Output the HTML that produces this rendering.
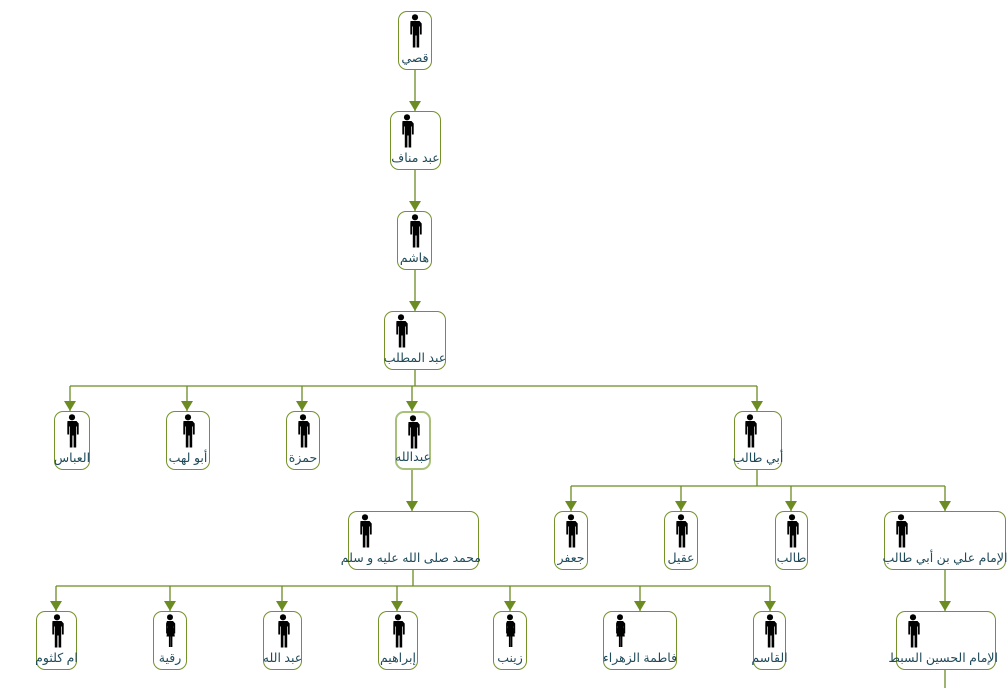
<!DOCTYPE html>
<html><head><meta charset="utf-8"><style>
body{margin:0;width:1007px;height:688px;background:#fff;position:relative;overflow:hidden;font-family:"Liberation Sans","DejaVu Sans",sans-serif}
.n{position:absolute;height:59px;border:1.3px solid #74912a;border-radius:9px;background:#fff;box-sizing:border-box}
.n svg{position:absolute;left:50%;top:2px;margin-left:-8px}
.n.l svg{left:8px;margin-left:0}
.n span{position:absolute;left:-3px;right:-3px;bottom:4px;text-align:center;font-size:12.5px;color:#1f4a5a;white-space:nowrap;direction:rtl}
</style></head><body>
<svg width="1007" height="688" style="position:absolute;left:0;top:0">
<defs><marker id="a" markerWidth="10" markerHeight="12" refX="10" refY="6" orient="auto" markerUnits="userSpaceOnUse"><path d="M0,0 L10,6 L0,12z" fill="#6b8c22"/></marker></defs>
<g stroke="#6b8c22" stroke-width="1.3" fill="none">
<path d="M415 70V111" marker-end="url(#a)"/>
<path d="M415 170V211" marker-end="url(#a)"/>
<path d="M415 270V311" marker-end="url(#a)"/>
<path d="M415 370V386M70 386H757"/>
<path d="M70 386V411" marker-end="url(#a)"/><path d="M187 386V411" marker-end="url(#a)"/><path d="M302 386V411" marker-end="url(#a)"/><path d="M412 386V411" marker-end="url(#a)"/><path d="M757 386V411" marker-end="url(#a)"/>
<path d="M412 470V511" marker-end="url(#a)"/>
<path d="M757 470V486M571 486H945"/>
<path d="M571 486V511" marker-end="url(#a)"/><path d="M681 486V511" marker-end="url(#a)"/><path d="M791 486V511" marker-end="url(#a)"/><path d="M945 486V511" marker-end="url(#a)"/>
<path d="M413 570V586M56 586H770"/>
<path d="M56 586V611" marker-end="url(#a)"/><path d="M170 586V611" marker-end="url(#a)"/><path d="M282 586V611" marker-end="url(#a)"/><path d="M397 586V611" marker-end="url(#a)"/><path d="M510 586V611" marker-end="url(#a)"/><path d="M640 586V611" marker-end="url(#a)"/><path d="M770 586V611" marker-end="url(#a)"/>
<path d="M945 570V611" marker-end="url(#a)"/>
<path d="M945 670V688"/>
</g></svg>
<svg width="0" height="0" style="position:absolute"><defs>
<symbol id="m" viewBox="0 0 16 34"><circle cx="8" cy="3.3" r="3.1"/><path d="M3.5 7h9l2.2 2.5v11h-1.8v-8h-0.7v21h-2.6v-12h-1.2v12H5.8v-21h-0.7v8H3.3v-11z"/></symbol>
<symbol id="f" viewBox="0 0 16 34"><circle cx="8" cy="3.3" r="3"/><path d="M5 7h6l2.2 2.5v10h-1.5v-7h-0.3l1.4 10h-2.4v10.5h-1.6v-10.5h-0.2v10.5H6.9v-10.5H4.5l1.4-10h-0.3v7H4.1v-10z"/></symbol>
</defs></svg>
<div class="n" style="left:398px;top:11px;width:34px"><svg width="16" height="34"><use href="#m"/></svg><span>قصي</span></div>
<div class="n" style="left:390px;top:111px;width:51px"><svg width="16" height="34" style="left:8px;margin-left:0"><use href="#m"/></svg><span>عبد مناف</span></div>
<div class="n" style="left:397px;top:211px;width:35px"><svg width="16" height="34"><use href="#m"/></svg><span>هاشم</span></div>
<div class="n l" style="left:384px;top:311px;width:62px"><svg width="16" height="34"><use href="#m"/></svg><span>عبد المطلب</span></div>
<div class="n" style="left:54px;top:411px;width:36px"><svg width="16" height="34"><use href="#m"/></svg><span>العباس</span></div>
<div class="n" style="left:166px;top:411px;width:44px"><svg width="16" height="34"><use href="#m"/></svg><span>أبو لهب</span></div>
<div class="n" style="left:286px;top:411px;width:34px"><svg width="16" height="34"><use href="#m"/></svg><span>حمزة</span></div>
<div class="n" style="left:395px;top:411px;width:36px;border-color:#a9c07a;border-width:2px"><svg width="16" height="34"><use href="#m"/></svg><span>عبدالله</span></div>
<div class="n" style="left:734px;top:411px;width:48px"><svg width="16" height="34" style="left:7px;margin-left:0"><use href="#m"/></svg><span>أبي طالب</span></div>
<div class="n l" style="left:348px;top:511px;width:131px"><svg width="16" height="34"><use href="#m"/></svg><span>محمد صلى الله عليه و سلم</span></div>
<div class="n" style="left:554px;top:511px;width:34px"><svg width="16" height="34"><use href="#m"/></svg><span>جعفر</span></div>
<div class="n" style="left:664px;top:511px;width:34px"><svg width="16" height="34"><use href="#m"/></svg><span>عقيل</span></div>
<div class="n" style="left:775px;top:511px;width:33px"><svg width="16" height="34"><use href="#m"/></svg><span>طالب</span></div>
<div class="n l" style="left:884px;top:511px;width:122px"><svg width="16" height="34"><use href="#m"/></svg><span>الإمام علي بن أبي طالب</span></div>
<div class="n" style="left:36px;top:611px;width:41px"><svg width="16" height="34"><use href="#m"/></svg><span>ام كلثوم</span></div>
<div class="n" style="left:153px;top:611px;width:34px"><svg width="16" height="34"><use href="#f"/></svg><span>رقية</span></div>
<div class="n" style="left:263px;top:611px;width:39px"><svg width="16" height="34"><use href="#m"/></svg><span>عبد الله</span></div>
<div class="n" style="left:378px;top:611px;width:40px"><svg width="16" height="34"><use href="#m"/></svg><span>إبراهيم</span></div>
<div class="n" style="left:493px;top:611px;width:34px"><svg width="16" height="34"><use href="#f"/></svg><span>زينب</span></div>
<div class="n" style="left:603px;top:611px;width:74px"><svg width="16" height="34" style="left:8px;margin-left:0"><use href="#f"/></svg><span>فاطمة الزهراء</span></div>
<div class="n" style="left:753px;top:611px;width:33px"><svg width="16" height="34"><use href="#m"/></svg><span>القاسم</span></div>
<div class="n l" style="left:896px;top:611px;width:100px"><svg width="16" height="34"><use href="#m"/></svg><span>الإمام الحسين السبط</span></div>
</body></html>
